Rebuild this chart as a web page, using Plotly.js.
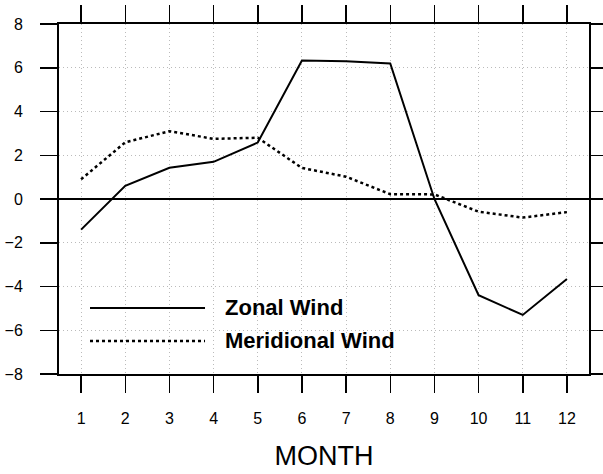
<!DOCTYPE html>
<html>
<head>
<meta charset="utf-8">
<script src="https://cdn.plot.ly/plotly-3.0.1.min.js"></script>
<style>html,body{margin:0;padding:0;background:#fff;}</style>
</head>
<body>
<div id="chart" style="width:603px;height:474px;"></div>
<script>
const months = [1, 2, 3, 4, 5, 6, 7, 8, 9, 10, 11, 12];
const zonalWind = [-1.4, 0.6, 1.43, 1.7, 2.58, 6.33, 6.3, 6.2, 0.0, -4.4, -5.3, -3.66];
const meridionalWind = [0.9, 2.59, 3.1, 2.75, 2.8, 1.42, 1.02, 0.22, 0.21, -0.58, -0.85, -0.6];
const seriesNames = ["Zonal Wind", "Meridional Wind"];
const xTickLabels = ["1","2","3","4","5","6","7","8","9","10","11","12"];
const yTickVals = [-8, -6, -4, -2, 0, 2, 4, 6, 8];
const xTitle = "MONTH";

const font = "Liberation Sans, Arial, Helvetica, sans-serif";

const traces = [
  {x: months, y: zonalWind, name: seriesNames[0], mode: "lines",
   line: {color: "#000", width: 2}, showlegend: false},
  {x: months, y: meridionalWind, name: seriesNames[1], mode: "lines",
   line: {color: "#000", width: 2.5, dash: "dot"}, showlegend: false}
];

const layout = {
  width: 603, height: 474,
  margin: {l: 59, r: 14, t: 24, b: 100},
  paper_bgcolor: "#fff", plot_bgcolor: "#fff",
  font: {family: font, color: "#000"},
  xaxis: {
    range: [0.5, 12.5], tickvals: months, ticktext: xTickLabels,
    ticks: "outside", ticklen: 17, tickwidth: 1.5, tickcolor: "#000",
    showline: true, linecolor: "#000", linewidth: 2, mirror: "ticks",
    showgrid: true, gridcolor: "#bbb", griddash: "1px,3px", gridwidth: 1,
    zeroline: false, tickfont: {size: 16}, ticklabelstandoff: 12,
    title: {text: xTitle, font: {size: 27}, standoff: 20}
  },
  yaxis: {
    range: [-8, 8], tickvals: yTickVals,
    ticks: "outside", ticklen: 17, tickwidth: 1.5, tickcolor: "#000",
    showline: true, linecolor: "#000", linewidth: 2, mirror: "ticks",
    showgrid: true, gridcolor: "#bbb", griddash: "1px,3px", gridwidth: 1,
    zeroline: true, zerolinecolor: "#000", zerolinewidth: 1.5,
    tickfont: {size: 16}, ticklabelstandoff: 14
  },
  shapes: [
    {type: "line", xref: "paper", yref: "paper", x0: 0.0585, x1: 0.2755, y0: 0.1886, y1: 0.1886,
     line: {color: "#000", width: 2}},
    {type: "line", xref: "paper", yref: "paper", x0: 0.0585, x1: 0.2755, y0: 0.0943, y1: 0.0943,
     line: {color: "#000", width: 2.5, dash: "dot"}}
  ],
  annotations: [
    {xref: "paper", yref: "paper", x: 0.309, y: 0.1886, xanchor: "left", yanchor: "middle",
     text: "<b>" + seriesNames[0] + "</b>", showarrow: false, font: {size: 22}},
    {xref: "paper", yref: "paper", x: 0.309, y: 0.0943, xanchor: "left", yanchor: "middle",
     text: "<b>" + seriesNames[1] + "</b>", showarrow: false, font: {size: 22}}
  ]
};

Plotly.newPlot("chart", traces, layout, {displayModeBar: false, staticPlot: true});
</script>
</body>
</html>
